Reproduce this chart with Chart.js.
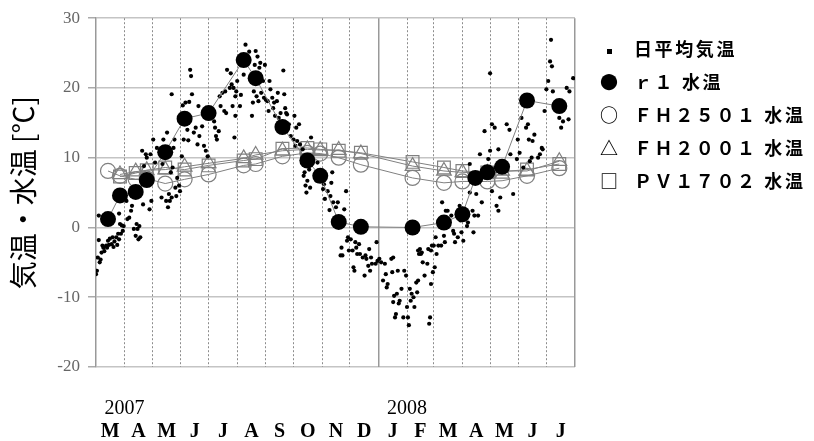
<!DOCTYPE html>
<html>
<head>
<meta charset="utf-8">
<script src="https://cdn.jsdelivr.net/npm/chart.js@4.4.0/dist/chart.umd.min.js"></script>
<style>
  body { margin: 0; background: #fff; }
  #wrap { position: relative; width: 814px; height: 441px; }
  #legend { position: absolute; left: 597px; top: 32px; font-family: "Noto Sans CJK JP"; font-weight: bold; font-size: 18px; letter-spacing: 2.6px; color: #000; }
  .row { height: 33px; line-height: 33px; white-space: nowrap; }
  .sym { display: inline-block; width: 24px; text-align: center; margin-right: 13px; letter-spacing: 0; }
  .dot { display: inline-block; width: 5px; height: 5px; background: #000; vertical-align: middle; }
</style>
</head>
<body>
<div id="wrap">
  <canvas id="chart" width="814" height="441"></canvas>
  <div id="legend"></div>
</div>
<script>
// x values are days counted from 1 March 2007
const monthLetters = ['M', 'A', 'M', 'J', 'J', 'A', 'S', 'O', 'N', 'D', 'J', 'F', 'M', 'A', 'M', 'J', 'J'];
const yearLabels = ['2007', '2008'];
const seriesNames = ['日平均気温', 'ｒ１ 水温', 'ＦＨ２５０１ 水温', 'ＦＨ２００１ 水温', 'ＰＶ１７０２ 水温'];
const seriesSymbols = ['', '●', '○', '△', '□'];

// daily mean air temperature [day, °C]
const dailyAir = [
  [0,-6.7],[1,-6.2],[2,-4.3],[3,-1.8],[3,1.7],[4,-5.0],[5,-4.6],[6,-3.6],[7,-2.6],[8,-2.9],[9,-3.4],[11,-2.6],[12,-2.9],[13,-1.9],[14,-2.5],
  [15,-1.6],[17,-2.4],[18,-1.4],[19,-2.8],[20,-2.0],[22,-1.4],[23,-2.5],[24,-0.9],[25,-1.7],[25,2.0],[26,0.5],[27,-0.9],[28,0.3],[29,-0.5],[30,0.2],
  [33,3.8],[34,1.2],[36,1.4],[38,2.4],[39,3.1],[41,-0.2],[43,-1.2],[44,0.5],[45,-0.2],[46,-1.7],[47,0.2],[48,-1.4],[50,11.0],[51,3.3],[52,8.8],
  [54,10.5],[55,10.0],[56,7.1],[57,6.7],[58,2.6],[59,10.5],[60,3.8],
  [62,12.6],[64,9.3],[66,11.4],[71,4.3],[72,9.1],[73,12.6],[76,3.8],[77,13.6],[78,2.9],[79,4.8],[80,3.8],[81,7.9],[82,4.3],[82,19.1],[83,8.6],
  [84,11.4],[85,12.6],[86,5.7],[87,4.5],[88,7.1],[90,6.0],[91,5.2],
  [93,10.2],[94,17.5],[95,12.6],[97,17.9],[99,14.0],[100,12.5],[101,18.0],[102,22.6],[103,21.7],[104,19.1],[106,13.6],[108,14.3],[110,11.9],
  [111,17.4],[112,13.1],[115,14.5],[117,11.7],[119,11.0],[121,10.2],
  [127,16.2],[128,15.2],[129,14.3],[130,13.1],[131,12.6],[133,13.8],[134,18.8],[135,17.4],[137,19.3],[139,16.7],[140,19.5],[141,16.4],[142,22.6],
  [145,20.0],[146,22.1],[147,20.5],[148,17.4],[149,20.0],[150,12.9],[151,16.0],[151,18.8],[152,19.5],[153,21.0],
  [156,17.4],[157,19.0],[160,21.9],[162,26.2],[166,25.2],[169,16.0],[170,17.9],[171,19.5],[172,23.3],[173,25.3],[174,18.8],[175,24.5],[176,18.1],
  [177,22.9],[178,23.6],[179,19.3],[181,21.0],[182,18.6],[183,23.3],
  [184,18.3],[186,18.1],[187,16.7],[188,21.0],[189,19.8],[191,18.6],[192,17.1],[193,17.9],[194,16.0],[196,18.1],[197,19.3],[198,15.7],[200,16.4],
  [203,22.5],[204,19.1],[205,17.1],[206,16.4],[207,16.2],[209,14.8],[211,13.1],
  [214,12.6],[215,16.0],[216,11.7],[217,14.3],[218,12.4],[220,14.8],[221,11.9],[224,11.2],[225,7.4],[226,7.9],[227,6.0],[228,5.0],[229,6.7],
  [231,8.3],[232,5.7],[233,12.9],[239,6.7],[240,9.3],[242,7.9],
  [246,5.5],[247,6.2],[248,4.1],[251,5.2],[253,2.5],[254,4.5],[255,6.4],[256,7.9],[257,3.6],[260,2.9],[262,3.6],[265,-4.0],[266,-2.9],[267,-4.0],
  [269,2.6],[271,5.2],[272,-1.9],[273,-1.4],[274,-3.3],
  [276,-1.7],[278,-3.3],[279,-5.7],[280,-6.2],[281,-2.1],[282,-2.9],[283,-3.8],[285,-2.4],[286,-3.8],[289,-4.3],[291,-6.9],[292,-4.0],[293,-4.5],
  [295,-5.5],[296,-3.1],[297,-6.2],[298,-4.3],[299,-5.2],[303,-5.2],[304,-2.1],[305,-4.8],
  [307,-4.5],[309,-5.0],[311,-7.6],[313,-5.2],[314,-6.7],[315,-8.6],[316,-8.1],[320,-4.5],[321,-6.4],[322,-10.7],[322,-4.3],[323,-9.8],[324,-12.9],
  [325,-12.4],[326,-9.5],[327,-6.2],[328,-10.9],[329,-10.5],[331,-8.8],[333,-12.9],[334,-6.2],[336,-6.9],
  [337,-11.4],[338,-12.9],[339,-14.0],[340,-8.8],[341,-10.5],[342,-9.5],[344,-10.0],[345,-11.4],[347,-7.9],[348,-9.3],[349,-7.6],[349,-3.3],
  [350,-3.8],[351,-3.1],[352,-3.8],[353,-3.6],[354,-5.0],[356,-6.9],[359,-5.2],[360,-3.1],[361,-13.8],[362,-12.9],[363,-3.3],[363,-8.1],[364,-2.6],[365,-6.4],
  [366,-2.6],[367,-5.7],[368,-1.4],[369,-3.8],[371,-2.6],[374,-2.6],[375,3.6],[377,-1.2],[378,-2.1],[379,2.4],[381,2.4],[385,1.7],[387,-0.5],
  [388,-0.9],[389,-2.1],[392,-1.4],[394,3.1],[395,1.0],[396,-0.7],
  [398,-1.9],[402,0.2],[403,0.7],[405,5.0],[405,9.1],[408,2.4],[409,-0.7],[410,1.7],[412,4.8],[414,1.7],[416,10.5],[418,3.6],[421,13.8],[425,9.8],
  [427,22.1],[427,11.0],[429,14.8],[429,5.2],[432,14.3],[433,8.6],[434,3.1],[436,2.4],[436,11.2],[438,4.3],[445,14.8],[448,14.0],[449,10.5],
  [452,4.8],[456,9.8],
  [457,12.6],[459,10.7],[461,15.7],[463,8.6],[466,14.3],[468,14.8],[469,12.6],[470,9.5],[472,10.0],[473,12.4],[475,13.3],[479,10.0],[481,10.5],
  [483,11.4],[484,11.2],[486,16.7],
  [488,19.8],[490,21.0],[492,23.8],[493,26.9],[494,23.1],[495,19.5],[502,15.7],[504,14.3],[506,15.2],[510,20.0],[512,15.5],[513,19.5],[517,21.4]
];

// water temperature sampling days and values (°C)
const r1Day = [13, 26, 43, 55, 75, 96, 122, 160, 173, 202, 229, 243, 263, 287, 343, 377, 397, 411, 424, 440, 467, 502];
const r1Temp = [1.2, 4.6, 5.1, 6.8, 10.8, 15.6, 16.4, 24.0, 21.4, 14.4, 9.6, 7.4, 0.8, 0.1, 0.0, 0.7, 1.9, 7.1, 7.9, 8.7, 18.2, 17.4];

const waterDay = [13, 26, 43, 55, 75, 96, 122, 160, 173, 202, 229, 243, 263, 287, 343, 377, 397, 424, 440, 467, 502];
const fh2501Temp = [8.1, 7.4, 6.9, 7.0, 6.3, 6.9, 7.6, 8.9, 9.1, 10.2, 10.7, 10.6, 10.0, 9.0, 7.1, 6.4, 6.6, 6.6, 6.7, 7.4, 8.5];
const fh2001Temp = [null, 7.6, 8.0, 8.2, 8.3, 8.7, 9.2, 9.9, 10.4, 11.0, 11.2, 11.1, 11.1, 10.6, 8.8, 8.1, 7.9, 7.8, 8.1, 8.1, 9.5];
const pv1702Temp = [null, 7.3, 7.8, 8.2, 8.6, 8.3, 8.9, 9.6, 9.8, 11.3, 11.4, 11.2, 11.0, 10.7, 9.4, 8.6, 8.1, 7.9, 8.0, 8.3, 9.1];

// month boundaries as day numbers (Mar 2007 .. Aug 2008)
const start = Date.UTC(2007, 2, 1);
const monthStarts = [];
for (let m = 0; m <= 17; m++) {
  monthStarts.push(Math.round((Date.UTC(2007, 2 + m, 1) - start) / 86400000));
}
const jan2008 = monthStarts[10];
const xMax = monthStarts[17];
const monthMids = monthLetters.map((l, i) => (monthStarts[i] + monthStarts[i + 1]) / 2);
const yearTicks = [monthStarts[1], monthStarts[11]];

function toPoints(days, temps) {
  return days.map((d, i) => ({ x: d, y: temps[i] })).filter(p => p.y !== null);
}

const grey = '#808080';

const chart = new Chart(document.getElementById('chart'), {
  type: 'scatter',
  data: {
    datasets: [
      {
        label: seriesNames[1],
        data: toPoints(r1Day, r1Temp),
        showLine: true,
        borderColor: grey,
        borderWidth: 1,
        pointStyle: 'circle',
        pointRadius: 8,
        pointBackgroundColor: '#000',
        pointBorderColor: '#000',
        pointBorderWidth: 0,
        order: 0
      },
      {
        label: seriesNames[0],
        data: dailyAir.map(p => ({ x: p[0], y: p[1] })),
        showLine: false,
        pointStyle: 'circle',
        pointRadius: 2.1,
        pointBackgroundColor: '#000',
        pointBorderWidth: 0,
        order: 1
      },
      {
        label: seriesNames[2],
        data: toPoints(waterDay, fh2501Temp),
        showLine: true,
        borderColor: grey,
        borderWidth: 1,
        pointStyle: 'circle',
        pointRadius: 7.5,
        pointBackgroundColor: 'rgba(0,0,0,0)',
        pointBorderColor: grey,
        pointBorderWidth: 1.2,
        order: 2
      },
      {
        label: seriesNames[3],
        data: toPoints(waterDay, fh2001Temp),
        showLine: true,
        borderColor: grey,
        borderWidth: 1,
        pointStyle: 'triangle',
        pointRadius: 8.5,
        pointBackgroundColor: 'rgba(0,0,0,0)',
        pointBorderColor: grey,
        pointBorderWidth: 1.2,
        order: 3
      },
      {
        label: seriesNames[4],
        data: toPoints(waterDay, pv1702Temp),
        showLine: true,
        borderColor: grey,
        borderWidth: 1,
        pointStyle: 'rect',
        pointRadius: 9,
        pointBackgroundColor: 'rgba(0,0,0,0)',
        pointBorderColor: grey,
        pointBorderWidth: 1.2,
        order: 4
      }
    ]
  },
  options: {
    responsive: false,
    animation: false,
    layout: { padding: { top: 16, right: 239, left: 0, bottom: 0 } },
    plugins: { legend: { display: false }, tooltip: { enabled: false } },
    scales: {
      y: {
        min: -20,
        max: 30,
        ticks: { stepSize: 10, color: '#666', padding: 8, font: { family: 'Liberation Serif', size: 17 } },
        grid: { color: '#c4c4c4', lineWidth: 1.5, tickLength: 8, tickColor: '#aaa' },
        border: { display: true, color: '#999', width: 1.5 },
        title: {
          display: true,
          text: '気温・水温 [℃]',
          color: '#000',
          font: { family: 'Noto Sans CJK JP', size: 28 },
          padding: { top: 7, bottom: 0 }
        },
        afterFit: (scale) => { scale.width = 96; }
      },
      // dotted month lines
      x: {
        type: 'linear',
        position: 'bottom',
        min: 0,
        max: xMax,
        afterBuildTicks: (scale) => {
          scale.ticks = monthStarts.filter(d => d > 0 && d < xMax && d !== jan2008).map(v => ({ value: v }));
        },
        ticks: { display: false },
        grid: { color: '#8c8c8c', lineWidth: 1, drawTicks: false },
        border: { display: false, dash: [2, 2] }
      },
      // solid line at the new year and at the right edge
      x2: {
        type: 'linear',
        axis: 'x',
        position: 'bottom',
        min: 0,
        max: xMax,
        afterBuildTicks: (scale) => {
          scale.ticks = [jan2008, xMax].map(v => ({ value: v }));
        },
        ticks: { display: false },
        grid: { color: '#999', lineWidth: 1.5, drawTicks: false },
        border: { display: false }
      },
      xYear: {
        type: 'linear',
        axis: 'x',
        position: 'bottom',
        weight: 1,
        min: 0,
        max: xMax,
        afterBuildTicks: (scale) => {
          scale.ticks = yearTicks.map(v => ({ value: v }));
        },
        ticks: {
          autoSkip: false,
          maxRotation: 0,
          padding: 30,
          color: '#000',
          font: { family: 'Liberation Serif', size: 20 },
          callback: (v, i) => yearLabels[i]
        },
        grid: { display: false, drawTicks: false },
        border: { display: false },
        afterFit: (scale) => { scale.height = 50; }
      },
      xMonth: {
        type: 'linear',
        axis: 'x',
        position: 'bottom',
        weight: 2,
        min: 0,
        max: xMax,
        afterBuildTicks: (scale) => {
          scale.ticks = monthMids.map(v => ({ value: v }));
        },
        ticks: {
          autoSkip: false,
          maxRotation: 0,
          padding: 3,
          color: '#000',
          font: { family: 'Liberation Serif', size: 20, weight: 'bold' },
          callback: (v, i) => monthLetters[i]
        },
        grid: { display: false, drawTicks: false },
        border: { display: false },
        afterFit: (scale) => { scale.height = 24; }
      }
    }
  }
});

// legend on the right
const legend = document.getElementById('legend');
seriesNames.forEach((name, i) => {
  const row = document.createElement('div');
  row.className = 'row';
  const sym = document.createElement('span');
  sym.className = 'sym';
  if (i === 0) {
    const d = document.createElement('span');
    d.className = 'dot';
    sym.appendChild(d);
  } else {
    sym.textContent = seriesSymbols[i];
  }
  row.appendChild(sym);
  row.appendChild(document.createTextNode(name));
  legend.appendChild(row);
});
</script>
</body>
</html>
